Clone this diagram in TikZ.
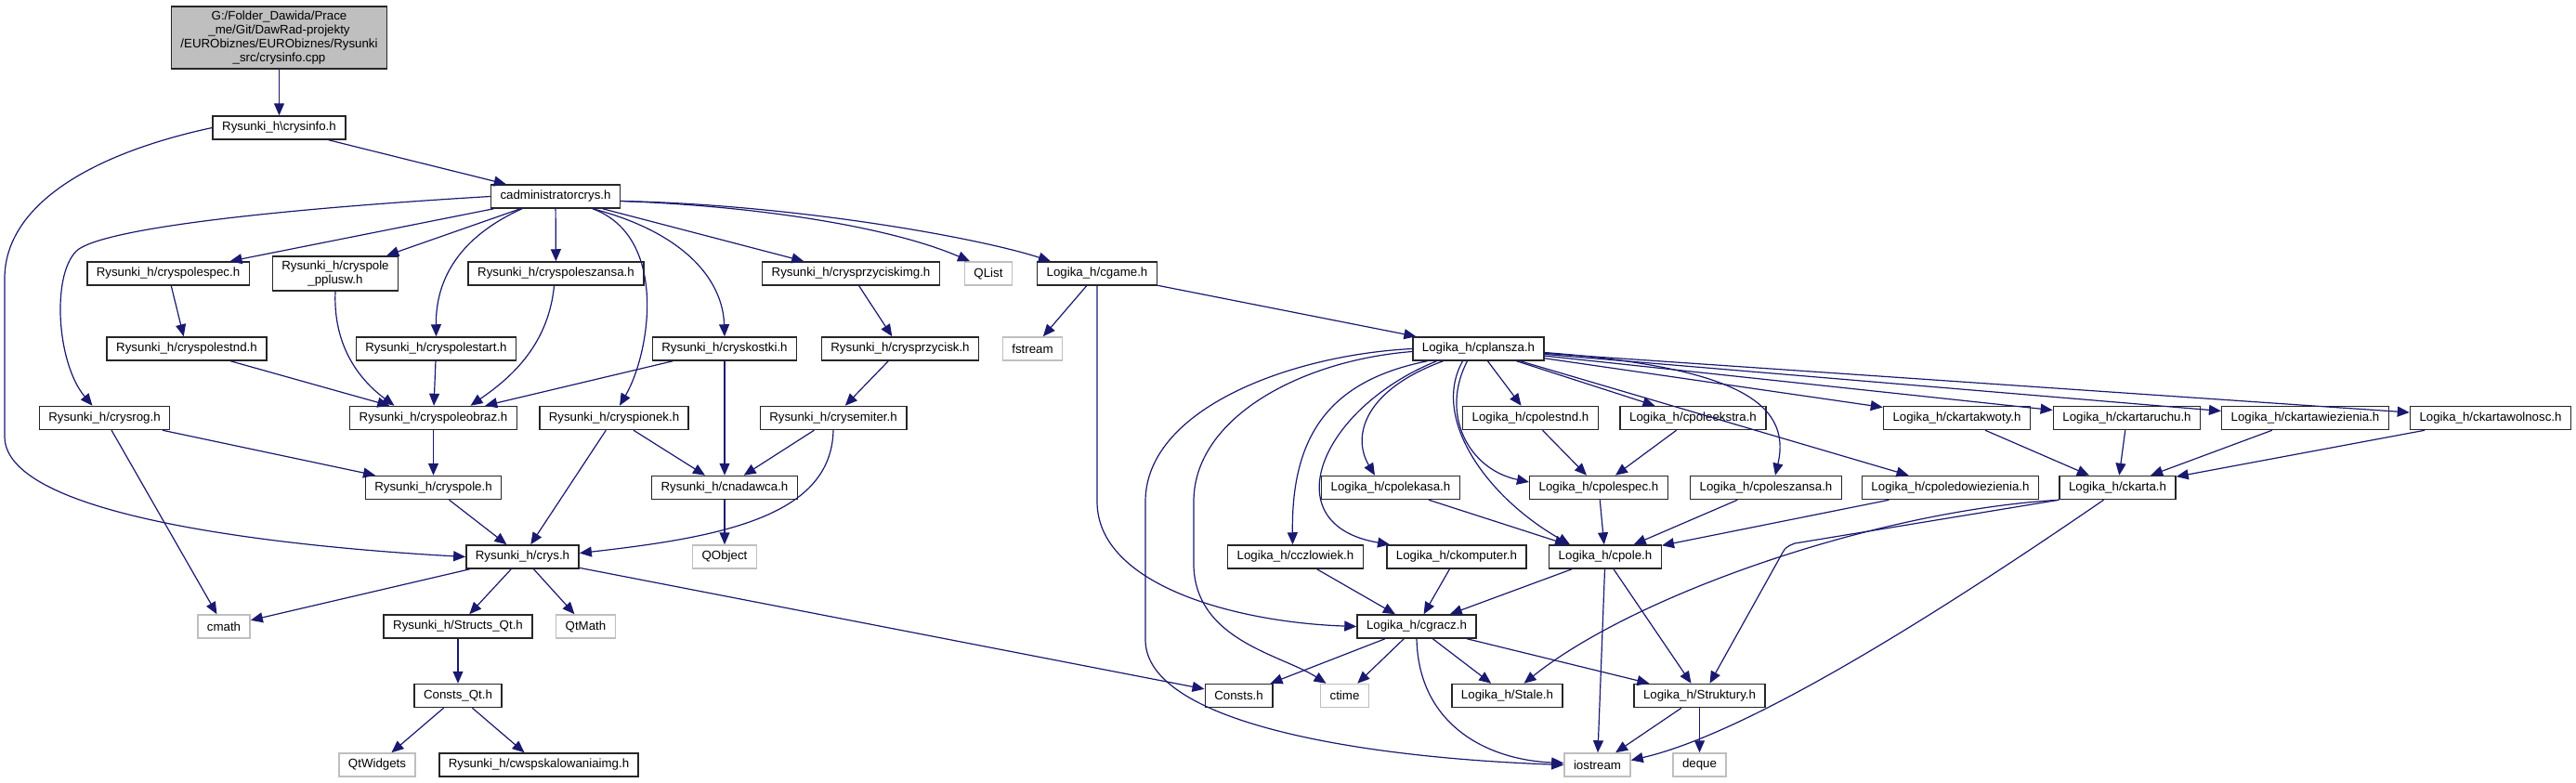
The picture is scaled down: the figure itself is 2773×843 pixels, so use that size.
\documentclass[tikz,border=0pt]{standalone}
\usepackage{fontspec}
\setmainfont{Liberation Sans}
\usetikzlibrary{arrows.meta}
\definecolor{edgeblue}{HTML}{191970}
\definecolor{extgray}{HTML}{BFBFBF}
\newcommand{\doxyfont}{\fontsize{13.3}{14.8}\selectfont}
\tikzset{
    filebox/.style = {rectangle, draw=black!85, line width=1.5pt, fill=white, align=center,
                      inner xsep=10pt, inner ysep=5pt, minimum height=25pt, font=\doxyfont},
    extbox/.style  = {filebox, draw=extgray},
    rootbox/.style = {filebox, fill=extgray}
}
\begin{document}
\begin{tikzpicture}[
        x=1pt, y=-1pt,
        inc/.style = {-{Triangle[length=13pt, width=11pt]}, line width=1.2pt, draw=edgeblue}
    ]
        \useasboundingbox (0,0) rectangle (2773,843);

        % Root file
        \node[rootbox] (root) at (300.5,40.5) {G:/Folder\_Dawida/Prace\\\_me/Git/DawRad-projekty\\/EURObiznes/EURObiznes/Rysunki\\\_src/crysinfo.cpp};
        \node[filebox] (crysinfo) at (300.5,137.5) {Rysunki\_h\textbackslash crysinfo.h};
        \node[filebox] (cadmin) at (598,211.5) {cadministratorcrys.h};

        % Rysunki headers
        \node[filebox] (cryspolespec) at (181,294.5) {Rysunki\_h/cryspolespec.h};
        \node[filebox] (pplusw) at (361,294.5) {Rysunki\_h/cryspole\\\_pplusw.h};
        \node[filebox] (cryspoleszansa) at (598.5,294.5) {Rysunki\_h/cryspoleszansa.h};
        \node[filebox] (crysprzyciskimg) at (916,294.5) {Rysunki\_h/crysprzyciskimg.h};
        \node[extbox] (qlist) at (1064,294.5) {QList};
        \node[filebox] (cgame) at (1181,294.5) {Logika\_h/cgame.h};

        \node[filebox] (cryspolestnd) at (201,375.5) {Rysunki\_h/cryspolestnd.h};
        \node[filebox] (cryspolestart) at (469.5,375.5) {Rysunki\_h/cryspolestart.h};
        \node[filebox] (cryskostki) at (780,375.5) {Rysunki\_h/cryskostki.h};
        \node[filebox] (crysprzycisk) at (969,375.5) {Rysunki\_h/crysprzycisk.h};
        \node[extbox] (fstream) at (1111.5,375.5) {fstream};
        \node[filebox] (cplansza) at (1591.5,375.5) {Logika\_h/cplansza.h};

        \node[filebox] (crysrog) at (112.5,450) {Rysunki\_h/crysrog.h};
        \node[filebox] (cryspoleobraz) at (466.5,450) {Rysunki\_h/cryspoleobraz.h};
        \node[filebox] (cryspionek) at (661,450) {Rysunki\_h/cryspionek.h};
        \node[filebox] (crysemiter) at (897,450) {Rysunki\_h/crysemiter.h};

        \node[filebox] (cryspole) at (466.5,525) {Rysunki\_h/cryspole.h};
        \node[filebox] (cnadawca) at (780,525) {Rysunki\_h/cnadawca.h};

        \node[filebox] (crys) at (562.5,599.5) {Rysunki\_h/crys.h};
        \node[extbox] (qobject) at (780,599.5) {QObject};

        \node[extbox] (cmath) at (241,674.5) {cmath};
        \node[filebox] (structsqt) at (493,674.5) {Rysunki\_h/Structs\_Qt.h};
        \node[extbox] (qtmath) at (630.5,674.5) {QtMath};

        \node[filebox] (constsqt) at (493,749) {Consts\_Qt.h};
        \node[extbox] (qtwidgets) at (406,823.5) {QtWidgets};
        \node[filebox] (cwsp) at (580,823.5) {Rysunki\_h/cwspskalowaniaimg.h};

        % Logika headers
        \node[filebox] (cpolestnd) at (1647.5,450) {Logika\_h/cpolestnd.h};
        \node[filebox] (cpoleekstra) at (1822.5,450) {Logika\_h/cpoleekstra.h};
        \node[filebox] (ckartakwoty) at (2106.5,450) {Logika\_h/ckartakwoty.h};
        \node[filebox] (ckartaruchu) at (2289.5,450) {Logika\_h/ckartaruchu.h};
        \node[filebox] (ckartawiezienia) at (2481.5,450) {Logika\_h/ckartawiezienia.h};
        \node[filebox] (ckartawolnosc) at (2681,450) {Logika\_h/ckartawolnosc.h};

        \node[filebox] (cpolekasa) at (1497,525) {Logika\_h/cpolekasa.h};
        \node[filebox] (cpolespec) at (1721,525) {Logika\_h/cpolespec.h};
        \node[filebox] (cpoleszansa) at (1901,525) {Logika\_h/cpoleszansa.h};
        \node[filebox] (cpoledow) at (2099.5,525) {Logika\_h/cpoledowiezienia.h};
        \node[filebox] (ckarta) at (2279.5,525) {Logika\_h/ckarta.h};

        \node[filebox] (cczlowiek) at (1394.5,599.5) {Logika\_h/cczlowiek.h};
        \node[filebox] (ckomputer) at (1568,599.5) {Logika\_h/ckomputer.h};
        \node[filebox] (cpole) at (1728,599.5) {Logika\_h/cpole.h};

        \node[filebox] (cgracz) at (1525,674.5) {Logika\_h/cgracz.h};

        \node[filebox] (consts) at (1333.5,749) {Consts.h};
        \node[extbox] (ctime) at (1447.5,749) {ctime};
        \node[filebox] (stale) at (1622.5,749) {Logika\_h/Stale.h};
        \node[filebox] (struktury) at (1829.5,749) {Logika\_h/Struktury.h};

        \node[extbox] (iostream) at (1719.5,823.5) {iostream};
        \node[extbox] (deque) at (1829.5,823.5) {deque};

        % Includes of the root and crysinfo.h
        \draw[inc] (root) -- (crysinfo);
        \draw[inc] (crysinfo) -- (cadmin);
        \draw[inc] (crysinfo.west) .. controls (100,165) and (5,220) .. (5,300) -- (5,470) .. controls (5,560) and (330,590) .. (crys.west);

        % Includes of cadministratorcrys.h
        \draw[inc] (cadmin.west) .. controls (300,225) and (120,245) .. (85,268) .. controls (55,290) and (60,390) .. ([xshift=-13pt]crysrog.north);
        \draw[inc] (cadmin) -- (cryspolespec);
        \draw[inc] (cadmin) -- (pplusw);
        \draw[inc] ([xshift=-36pt]cadmin.south) .. controls (495,255) and (469,300) .. (cryspolestart.north);
        \draw[inc] (cadmin) -- (cryspoleszansa);
        \draw[inc] ([xshift=40pt]cadmin.south) .. controls (720,255) and (700,380) .. ([xshift=6pt]cryspionek.north);
        \draw[inc] ([xshift=40pt]cadmin.south) .. controls (735,250) and (778,300) .. (cryskostki.north);
        \draw[inc] (cadmin) -- (crysprzyciskimg);
        \draw[inc] ([yshift=-5pt]cadmin.east) .. controls (820,222) and (960,245) .. ([xshift=-20pt]qlist.north);
        \draw[inc] ([yshift=-5pt]cadmin.east) .. controls (850,220) and (1050,255) .. ([xshift=-50pt]cgame.north);

        % Rysunki includes
        \draw[inc] (cryspolespec) -- (cryspolestnd);
        \draw[inc] (cryspolestnd) -- (cryspoleobraz);
        \draw[inc] (pplusw.south) .. controls (358,380) and (395,415) .. ([xshift=-42pt]cryspoleobraz.north);
        \draw[inc] (cryspolestart) -- (cryspoleobraz);
        \draw[inc] ([xshift=-2pt]cryspoleszansa.south) .. controls (590,375) and (545,410) .. ([xshift=40pt]cryspoleobraz.north);
        \draw[inc] (cryskostki) -- (cryspoleobraz);
        \draw[inc] (cryskostki) -- (cnadawca);
        \draw[inc] (crysprzyciskimg) -- (crysprzycisk);
        \draw[inc] (crysprzycisk) -- (crysemiter);
        \draw[inc] (crysemiter) -- (cnadawca);
        \draw[inc] (crysemiter.south) .. controls (895,555) and (780,578) .. ([yshift=4pt]crys.east);
        \draw[inc] (cryspionek) -- (crys);
        \draw[inc] (cryspionek) -- (cnadawca);
        \draw[inc] (crysrog) -- (cryspole);
        \draw[inc] (crysrog) -- (cmath);
        \draw[inc] (cryspoleobraz) -- (cryspole);
        \draw[inc] (cryspole) -- (crys);
        \draw[inc] (cnadawca) -- (qobject);
        \draw[inc] (crys) -- (cmath);
        \draw[inc] (crys) -- (structsqt);
        \draw[inc] (crys) -- (qtmath);
        \draw[inc] (crys) -- (consts);
        \draw[inc] (structsqt) -- (constsqt);
        \draw[inc] (constsqt) -- (qtwidgets);
        \draw[inc] (constsqt) -- (cwsp);

        % Includes of cgame.h
        \draw[inc] (cgame) -- (fstream);
        \draw[inc] (cgame) -- (cplansza);
        \draw[inc] (cgame.south) -- (1181,540) .. controls (1181,630) and (1330,670) .. (cgracz.west);

        % Includes of cplansza.h
        \draw[inc] (cplansza.west) .. controls (1390,382) and (1233,440) .. (1233,540) -- (1233,690) .. controls (1235,775) and (1450,815) .. (iostream.west);
        \draw[inc] ([yshift=-3pt]cplansza.west) .. controls (1400,388) and (1285,450) .. (1285,540) -- (1285,610) .. controls (1288,690) and (1380,705) .. ([xshift=-20pt]ctime.north);
        \draw[inc] ([xshift=-55pt]cplansza.south) .. controls (1430,410) and (1390,470) .. ([xshift=-3pt]cczlowiek.north);
        \draw[inc] ([xshift=-45pt]cplansza.south) .. controls (1420,440) and (1370,565) .. ([xshift=-72pt]ckomputer.north);
        \draw[inc] ([xshift=-38pt]cplansza.south) .. controls (1468,420) and (1455,470) .. ([xshift=-17pt]cpolekasa.north);
        \draw[inc] ([xshift=-17pt]cplansza.south) .. controls (1540,450) and (1600,535) .. ([xshift=-38pt]cpole.north);
        \draw[inc] ([xshift=-12pt]cplansza.south) .. controls (1550,445) and (1580,505) .. ([yshift=6pt]cpolespec.west);
        \draw[inc] (cplansza) -- (cpolestnd);
        \draw[inc] (cplansza) -- (cpoleekstra);
        \draw[inc] ([yshift=-4pt]cplansza.east) .. controls (1860,395) and (1930,430) .. ([xshift=10pt]cpoleszansa.north);
        \draw[inc] (cplansza) -- (cpoledow);
        \draw[inc] (cplansza) -- (ckartakwoty);
        \draw[inc] (cplansza) -- (ckartaruchu);
        \draw[inc] (cplansza) -- (ckartawiezienia);
        \draw[inc] (cplansza) -- (ckartawolnosc);

        % Logika includes
        \draw[inc] (cpolestnd) -- (cpolespec);
        \draw[inc] (cpoleekstra) -- (cpolespec);
        \draw[inc] (cpolekasa) -- (cpole);
        \draw[inc] (cpolespec) -- (cpole);
        \draw[inc] (cpoleszansa) -- (cpole);
        \draw[inc] (cpoledow) -- (cpole);
        \draw[inc] (ckartakwoty) -- (ckarta);
        \draw[inc] (ckartaruchu) -- (ckarta);
        \draw[inc] (ckartawiezienia) -- (ckarta);
        \draw[inc] (ckartawolnosc) -- (ckarta);
        \draw[inc] (ckarta.south west) .. controls (2020,550) and (1760,640) .. ([xshift=18pt]stale.north);
        \draw[inc] (ckarta.south west) -- (1932,585) .. controls (1922,589) .. (1915,602) -- ([xshift=11pt]struktury.north);
        \draw[inc] ([xshift=-15pt]ckarta.south) .. controls (2080,665) and (1880,790) .. ([yshift=5pt]iostream.east);
        \draw[inc] (cczlowiek) -- (cgracz);
        \draw[inc] (ckomputer) -- (cgracz);
        \draw[inc] (cpole) -- (cgracz);
        \draw[inc] (cpole) -- (iostream);
        \draw[inc] (cpole) -- (struktury);
        \draw[inc] (cgracz) -- (consts);
        \draw[inc] (cgracz) -- (ctime);
        \draw[inc] (cgracz) -- (stale);
        \draw[inc] (cgracz) -- (struktury);
        \draw[inc] (cgracz.south) .. controls (1527,780) and (1600,818) .. ([yshift=2pt]iostream.west);
        \draw[inc] (struktury) -- (iostream);
        \draw[inc] (struktury) -- (deque);

    \end{tikzpicture}
\end{document}
